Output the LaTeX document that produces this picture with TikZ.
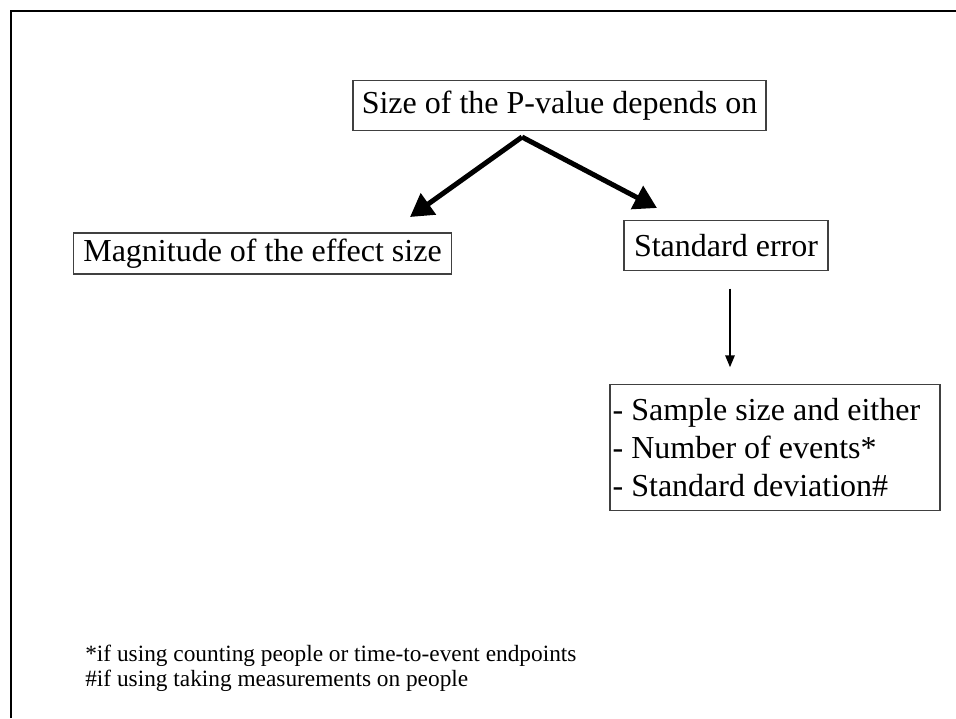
\documentclass[tikz,border=0pt]{standalone}
\usepackage{fontspec}
\setmainfont{Liberation Serif}
\usepackage{tikz}
\usetikzlibrary{arrows.meta, positioning}

\begin{document}
\begin{tikzpicture}[
    x=0.75pt, y=-0.75pt,
    factorbox/.style={
        rectangle, draw=black!75, line width=0.8pt, inner sep=0pt,
        align=center, font=\fontsize{24}{28}\selectfont
    },
    listbox/.style={
        rectangle, draw=black!75, line width=0.8pt, inner xsep=2pt, inner ysep=0pt,
        text width=243.5pt, align=flush left, font=\fontsize{24}{28.4}\selectfont
    },
    footnote/.style={anchor=base west, inner sep=0pt, align=left,
        font=\fontsize{17.5}{18.8}\selectfont},
    bigarrow/.style={draw, -{Triangle[length=17pt,width=19pt]}, line width=3.75pt},
    thinarrow/.style={draw, -{Triangle[length=9pt,width=7pt]}, line width=1.5pt}
]
\useasboundingbox (0,0) rectangle (956,718);
% frame of the slide
\draw [line width=1.5pt] (11,718) -- (11,11) -- (956,11);

\node [factorbox, minimum width=309.75pt, minimum height=37pt] (pvalue) at (559.5,105.5)
    {Size of the P-value depends on};
\node [factorbox, minimum width=284pt, minimum height=30.75pt] (effect) at (262.5,253.5)
    {Magnitude of the effect size};
\node [factorbox, minimum width=153pt, minimum height=37pt] (stderr) at (726,245.5)
    {Standard error};
\node [listbox, minimum height=94pt] (inputs) at (775,447.5)
    {- Sample size and either\\- Number of events*\\- Standard deviation\#};

\node [footnote] (note1) at (85,661) {*if using counting people or time-to-event endpoints};
\node [footnote] (note2) at ([yshift=-18.8pt]note1.base west)
    {\#if using taking measurements on people};

\coordinate (fork) at (522,137);
\coordinate (effecttip) at (410,217);
\coordinate (stderrtip) at (657,208);
\draw [bigarrow] (fork) -- (effecttip);
\draw [bigarrow] (fork) -- (stderrtip);

\draw [thinarrow] ([xshift=3pt, yshift=-13.5pt]stderr.south)
    -- ([xshift=3pt, yshift=12.75pt]stderr.south |- inputs.north);
\end{tikzpicture}
\end{document}
